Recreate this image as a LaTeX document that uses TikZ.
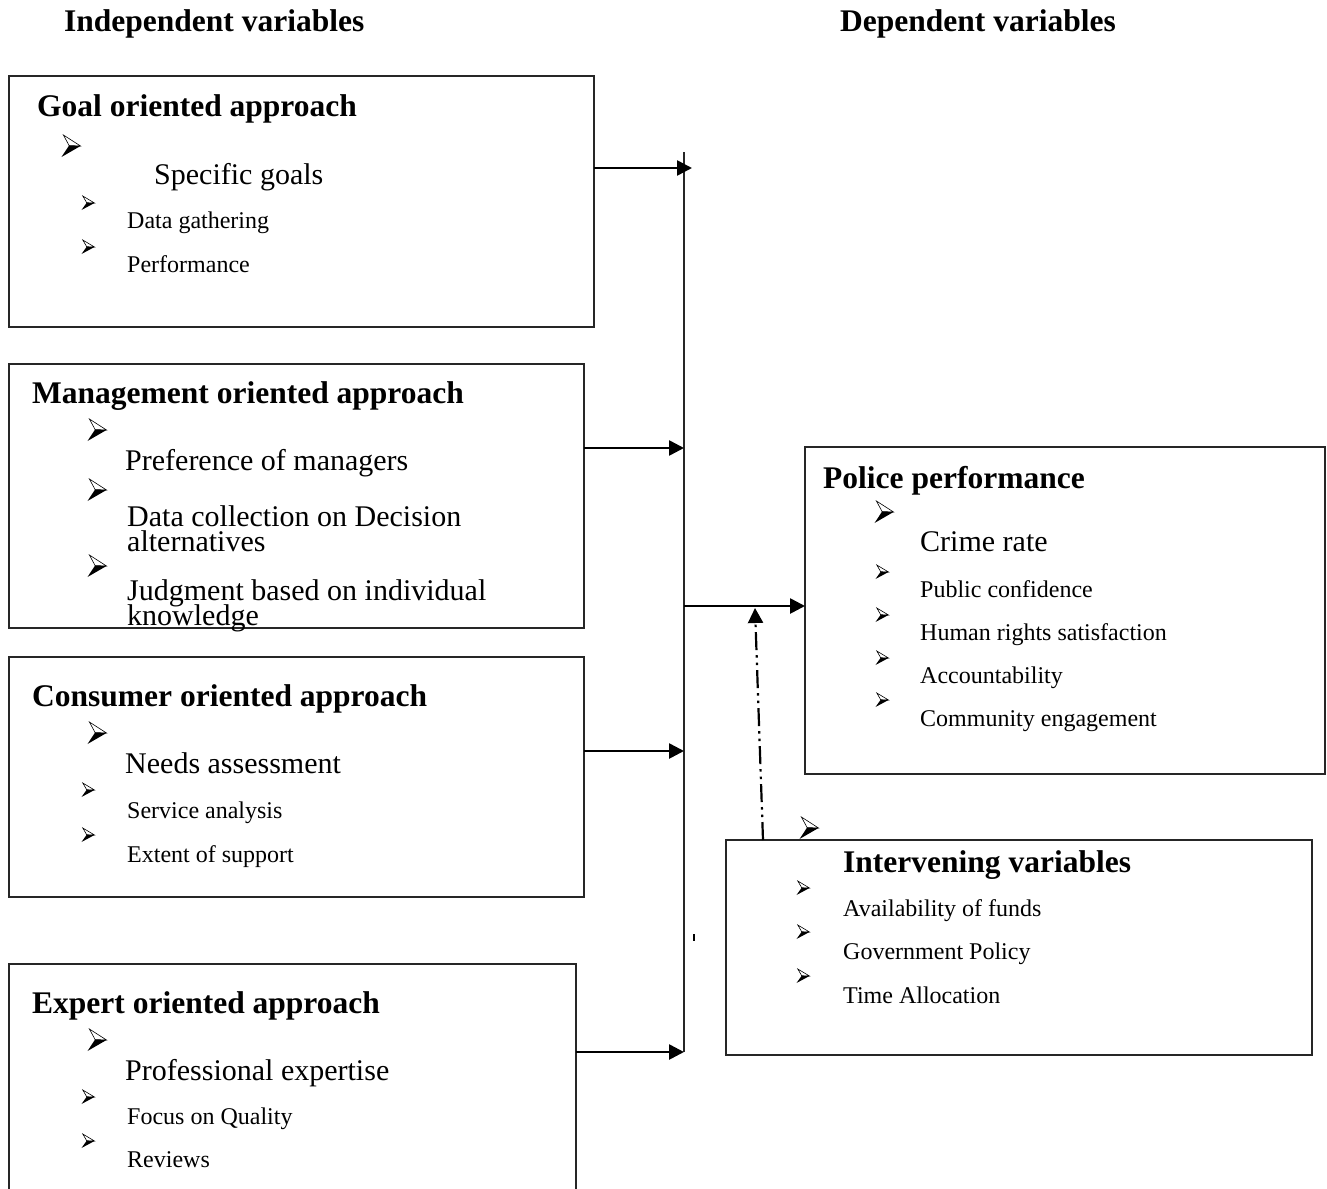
\documentclass[tikz,border=0pt]{standalone}
\usepackage{fontspec}
\setmainfont{Liberation Serif}
\usetikzlibrary{arrows.meta}
\tikzset{
  bul/.pic={
    \filldraw[fill=white,draw=black,line width=0.6pt] (-0.4,-0.5) -- (0.5,0) -- (-0.1,-0.02) -- cycle;
    \fill[black] (-0.1,-0.02) -- (0.5,0) -- (-0.5,0.5) -- cycle;
  }
}
\begin{document}
\begin{tikzpicture}[x=1pt,y=-1pt,
  boxst/.style={draw=black!85, line width=1.6pt, inner sep=0pt, outer sep=0pt, anchor=north west},
  hd/.style={font=\bfseries\fontsize{31.5}{36}\selectfont, anchor=base west, inner sep=0pt},
  mid/.style={font=\fontsize{30}{30}\selectfont, anchor=base west, inner sep=0pt},
  sm/.style={font=\fontsize{24}{24}\selectfont, anchor=base west, inner sep=0pt},
  arr/.style={line width=2.6pt, -{Triangle[length=15pt,width=15pt]}},
  bus/.style={line width=1.8pt, draw=black!85},
  dd/.style={line width=2.2pt, dash pattern=on 18pt off 5pt on 2.5pt off 5pt on 2.5pt off 5pt, -{Triangle[length=15pt,width=15pt]}},
  big/.style={xscale=19,yscale=22},
  small/.style={xscale=13,yscale=14}]
\useasboundingbox (0,0) rectangle (1327,1188);

% column headings
\node[hd] (indep) at (64,32) {Independent variables};
\node[hd] (dep) at (840,32) {Dependent variables};

% Goal oriented approach
\node[boxst, minimum width=585pt, minimum height=251pt] (goal) at (9,76) {};
\node[hd] (goalt) at (37,117) {Goal oriented approach};
\pic[big] at (71,146) {bul};
\node[mid] (g1) at (154,184) {Specific goals};
\pic[small] at (88,203) {bul};
\node[sm] (g2) at (127,228) {Data gathering};
\pic[small] at (88,247) {bul};
\node[sm] (g3) at (127,272) {Performance};

% Management oriented approach
\node[boxst, minimum width=575pt, minimum height=264pt] (mgmt) at (9,364) {};
\node[hd] (mgmtt) at (32,403) {Management oriented approach};
\pic[big] at (97,430) {bul};
\node[mid] (m1) at (125,470) {Preference of managers};
\pic[big] at (97,490) {bul};
\node[mid] (m2) at (127,526) {Data collection on Decision};
\node[mid] (m2b) at (127,551) {alternatives};
\pic[big] at (97,566) {bul};
\node[mid] (m3) at (127,600) {Judgment based on individual};
\node[mid] (m3b) at (127,625) {knowledge};

% Consumer oriented approach
\node[boxst, minimum width=575pt, minimum height=240pt] (cons) at (9,657) {};
\node[hd] (const) at (32,706) {Consumer oriented approach};
\pic[big] at (97,733) {bul};
\node[mid] (c1) at (125,773) {Needs assessment};
\pic[small] at (88,790) {bul};
\node[sm] (c2) at (127,818) {Service analysis};
\pic[small] at (88,835) {bul};
\node[sm] (c3) at (127,862) {Extent of support};

% Expert oriented approach (open at the bottom)
\node[inner sep=0pt, outer sep=0pt, anchor=north west, minimum width=567pt, minimum height=232pt] (expert) at (9,964) {};
\draw[draw=black!85, line width=1.6pt] (expert.south west) |- (expert.north east) -- (expert.south east);
\node[hd] (expertt) at (32,1013) {Expert oriented approach};
\pic[big] at (97,1040) {bul};
\node[mid] (e1) at (125,1080) {Professional expertise};
\pic[small] at (88,1097) {bul};
\node[sm] (e2) at (127,1124) {Focus on Quality};
\pic[small] at (88,1141) {bul};
\node[sm] (e3) at (127,1167) {Reviews};

% Police performance
\node[boxst, minimum width=520pt, minimum height=327pt] (police) at (805,447) {};
\node[hd] (policet) at (823,488) {Police performance};
\pic[big] at (884,512) {bul};
\node[mid] (p1) at (920,551) {Crime rate};
\pic[small] at (882,572) {bul};
\node[sm] (p2) at (920,597) {Public confidence};
\pic[small] at (882,615) {bul};
\node[sm] (p3) at (920,640) {Human rights satisfaction};
\pic[small] at (882,658) {bul};
\node[sm] (p4) at (920,683) {Accountability};
\pic[small] at (882,700) {bul};
\node[sm] (p5) at (920,726) {Community engagement};

% Intervening variables
\node[boxst, minimum width=586pt, minimum height=215pt] (interv) at (726,840) {};
\pic[big] at (809,828) {bul};
\node[hd] (intervt) at (843,872) {Intervening variables};
\pic[small] at (803,888) {bul};
\node[sm] (i1) at (843,916) {Availability of funds};
\pic[small] at (803,932) {bul};
\node[sm] (i2) at (843,959) {Government Policy};
\pic[small] at (803,976) {bul};
\node[sm] (i3) at (843,1003) {Time Allocation};

% bus line and connectors
\coordinate (bustop) at (684,152);
\coordinate (busbot) at (684,1052);
\draw[bus] (bustop) -- (busbot);
\coordinate (j1) at (692,168);
\coordinate (j2) at (684,448);
\coordinate (j3) at (684,751);
\coordinate (j4) at (684,1052);
\coordinate (j5) at (684,606);
\draw[arr] (goal.east |- j1) -- (j1);
\draw[arr] (mgmt.east |- j2) -- (j2);
\draw[arr] (cons.east |- j3) -- (j3);
\draw[arr] (expert.east |- j4) -- (j4);
\draw[arr] (j5) -- (police.west |- j5);

% intervening influence (dash-dot-dot)
\coordinate (d1) at (763,840);
\coordinate (d2) at (755,608);
\draw[dd] (d1) -- (d2);

% small stray tick
\coordinate (t1) at (694,934);
\coordinate (t2) at (694,941);
\draw[line width=1.5pt] (t1) -- (t2);
\end{tikzpicture}
\end{document}
